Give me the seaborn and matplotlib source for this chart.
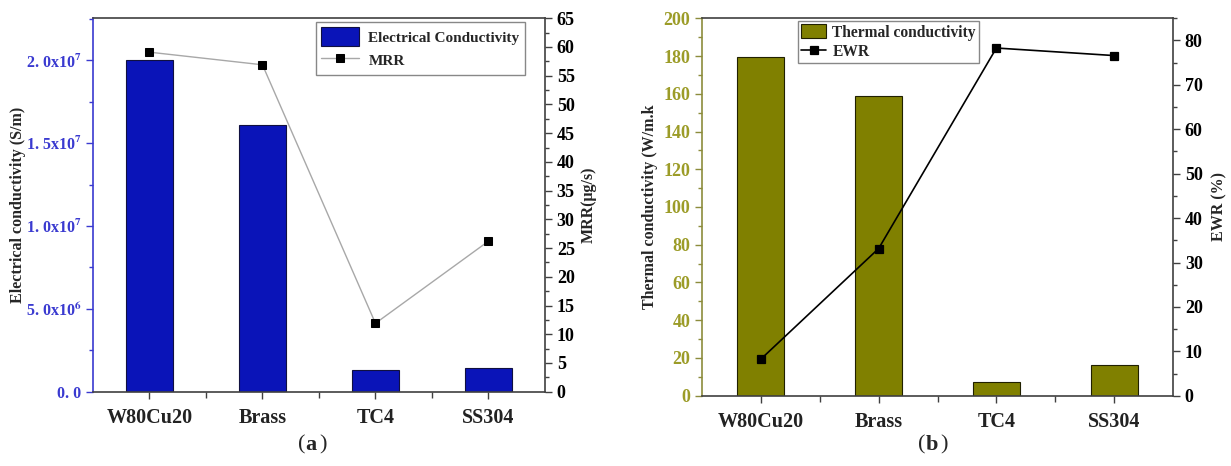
import numpy as np
import matplotlib
matplotlib.use("Agg")
import matplotlib.pyplot as plt
import matplotlib.ticker as mticker
import seaborn as sns

# Data
materials = ["W80Cu20", "Brass", "TC4", "SS304"]
elec_cond = [2.00e7, 1.61e7, 1.31e6, 1.43e6]      # S/m
mrr = [59.1, 56.9, 11.9, 26.2]                      # ug/s
therm_cond = [179.5, 158.8, 7.1, 16.3]              # W/m.k
ewr = [8.25, 33.15, 78.3, 76.6]                     # %

BLUE_BAR = "#0a14b8"
BLUE_TXT = "#3a3ad0"
OLIVE_BAR = "#808000"
OLIVE_TXT = "#9c9c28"
GREY_LINE = "#a8a8a8"
AXIS_DARK = "#404040"

sns.set_style("ticks")
plt.rcParams['font.family'] = ['Liberation Serif', 'DejaVu Serif']
plt.rcParams['mathtext.fontset'] = 'stix'
plt.rcParams['font.weight'] = 'bold'


def sci_fmt(v, pos):
    if v == 0:
        return "0. 0"
    e = int(np.floor(np.log10(abs(v)) + 1e-9))
    m = v / 10 ** e
    return f"{m:.1f}".replace(".", ". ") + "x10$^{" + str(e) + "}$"


def style_axes(ax, ax2, left_col, left_spine, left_size, right_size):
    ax.set_xlim(-0.5, 3.5)
    ax.set_xticks(range(len(materials)))
    ax.set_xticklabels(materials, fontsize=14.5, fontweight='bold')
    ax.xaxis.set_minor_locator(mticker.FixedLocator([0.5, 1.5, 2.5]))
    ax.tick_params(axis='x', which='major', direction='out', length=5, width=1, colors=AXIS_DARK, pad=7)
    ax.tick_params(axis='x', which='minor', direction='out', length=4, width=1, colors=AXIS_DARK)
    ax.tick_params(axis='x', labelcolor='#222222')
    ax.tick_params(axis='y', which='both', direction='out', colors=left_spine, width=1)
    ax.tick_params(axis='y', which='major', length=5, labelcolor=left_col, labelsize=left_size)
    ax.tick_params(axis='y', which='minor', length=3)
    for lab in ax.get_yticklabels():
        lab.set_fontweight('bold')
    ax.spines['left'].set_color(left_spine)
    ax.spines['bottom'].set_color(AXIS_DARK)
    ax.spines['top'].set_color(AXIS_DARK)
    ax.spines['top'].set_visible(True)
    ax.spines['right'].set_visible(False)
    for s in ax.spines.values():
        s.set_linewidth(1.2)
    ax2.spines['right'].set_color(AXIS_DARK)
    ax2.spines['right'].set_linewidth(1.2)
    for sp in ['left', 'top', 'bottom']:
        ax2.spines[sp].set_visible(False)
    ax2.tick_params(axis='y', which='both', direction='out', colors=AXIS_DARK, width=1)
    ax2.tick_params(axis='y', which='major', length=5, labelsize=right_size, labelcolor='black')
    ax2.tick_params(axis='y', which='minor', length=3)
    for lab in ax2.get_yticklabels():
        lab.set_fontweight('bold')
    ax.set_xlabel("")


fig = plt.figure(figsize=(12.31, 4.66), dpi=100)
axA = fig.add_axes([0.0755, 0.1595, 0.3672, 0.8013])
axB = fig.add_axes([0.5703, 0.1508, 0.3826, 0.8100])

# ---- panel (a)
sns.barplot(x=materials, y=elec_cond, color=BLUE_BAR, edgecolor='#101040', linewidth=0.8,
            width=0.41, saturation=1, ax=axA)
axA.set_ylim(0, 2.255e7)
axA.yaxis.set_major_locator(mticker.MultipleLocator(5e6))
axA.yaxis.set_minor_locator(mticker.MultipleLocator(2.5e6))
axA.yaxis.set_major_formatter(mticker.FuncFormatter(sci_fmt))
axA.set_ylabel("Electrical conductivity (S/m)", fontsize=11.5, fontweight='bold', labelpad=0)

axA2 = axA.twinx()
sns.pointplot(x=materials, y=mrr, color=GREY_LINE, markers='s', errorbar=None,
              markerfacecolor='black', markeredgecolor='black', markersize=6,
              linewidth=1.0, ax=axA2)
axA2.set_ylim(0, 65)
axA2.yaxis.set_major_locator(mticker.MultipleLocator(5))
axA2.yaxis.set_minor_locator(mticker.MultipleLocator(2.5))
axA2.set_ylabel("MRR(\u03bcg/s)", fontsize=11.5, fontweight='bold', labelpad=4)
style_axes(axA, axA2, BLUE_TXT, BLUE_TXT, 11.5, 13)

axA.containers[0].set_label("Electrical Conductivity")
lineA = axA2.lines[0]
lineA.set_label("MRR")
axA2.legend(handles=[axA.containers[0], lineA], loc='upper left', bbox_to_anchor=(0.493, 0.99),
            borderaxespad=0, fancybox=False, framealpha=1, edgecolor='#888888',
            prop={'weight': 'bold', 'size': 11}, handlelength=2.5, handleheight=1.5,
            borderpad=0.35, labelspacing=0.3, handletextpad=0.6)

# ---- panel (b)
sns.barplot(x=materials, y=therm_cond, color=OLIVE_BAR, edgecolor='#202000', linewidth=0.8,
            width=0.40, saturation=1, ax=axB)
axB.set_ylim(0, 200)
axB.yaxis.set_major_locator(mticker.MultipleLocator(20))
axB.yaxis.set_minor_locator(mticker.MultipleLocator(10))
axB.set_ylabel("Thermal conductivity (W/m.k", fontsize=11.5, fontweight='bold', labelpad=4)

axB2 = axB.twinx()
sns.pointplot(x=materials, y=ewr, color='black', markers='s', errorbar=None,
              markersize=6, linewidth=1.2, ax=axB2)
axB2.set_ylim(0, 85)
axB2.yaxis.set_major_locator(mticker.MultipleLocator(10))
axB2.yaxis.set_minor_locator(mticker.MultipleLocator(5))
axB2.set_ylabel("EWR (%)", fontsize=11.5, fontweight='bold', labelpad=6)
style_axes(axB, axB2, OLIVE_TXT, '#8c8c3c', 13, 13)

axB.containers[0].set_label("Thermal conductivity")
lineB = axB2.lines[0]
lineB.set_label("EWR")
axB2.legend(handles=[axB.containers[0], lineB], loc='upper left', bbox_to_anchor=(0.204, 0.992),
            borderaxespad=0, fancybox=False, framealpha=1, edgecolor='#888888',
            prop={'weight': 'bold', 'size': 11.2}, handlelength=1.6, handleheight=1.0,
            borderpad=0.2, labelspacing=0.2, handletextpad=0.4)

# panel captions
for cx, letter in [(0.248, "a"), (0.752, "b")]:
    fig.text(cx, 0.045, "(", fontsize=16, ha='right', va='center', fontweight='normal')
    fig.text(cx, 0.045, letter, fontsize=16, ha='left', va='center', fontweight='bold')
    fig.text(cx + 0.0115, 0.045, ")", fontsize=16, ha='left', va='center', fontweight='normal')

fig.savefig("out.png", dpi=100)
